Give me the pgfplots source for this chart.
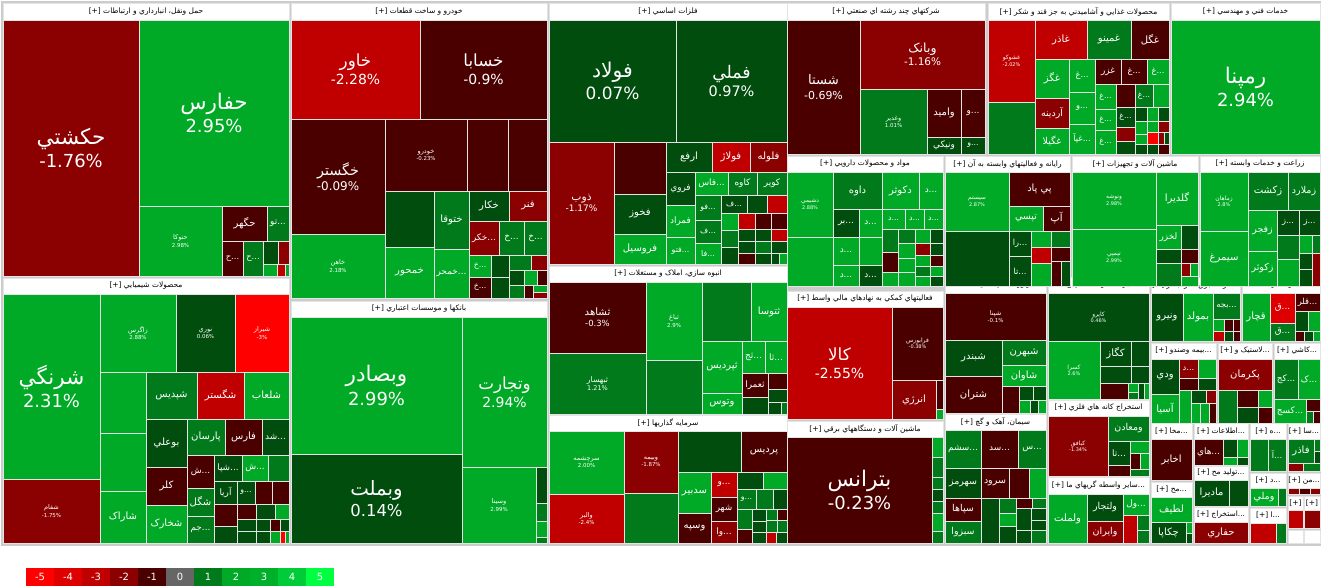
\documentclass[border=0pt]{standalone}
\usepackage{pgfplots}
\pgfplotsset{compat=1.18}
\usetikzlibrary{calc}
\usepackage{fontspec}
\setmainfont{DejaVu Sans}
\newfontfamily\ar[Script=Arabic]{DejaVu Sans}
\TeXXeTstate=1

\definecolor{r1}{RGB}{75,0,0}
\definecolor{r2}{RGB}{139,0,0}
\definecolor{r3}{RGB}{192,0,0}
\definecolor{r4}{RGB}{222,0,0}
\definecolor{r5}{RGB}{255,0,0}
\definecolor{g0}{RGB}{0,77,13}
\definecolor{g1}{RGB}{0,122,26}
\definecolor{g2}{RGB}{0,170,38}
\definecolor{g3}{RGB}{0,176,42}
\definecolor{g4}{RGB}{0,204,58}
\definecolor{g5}{RGB}{0,255,64}
\definecolor{n0}{RGB}{102,102,102}
\definecolor{tb}{RGB}{228,228,228}
\definecolor{bg}{RGB}{204,204,204}

\tikzset{lab/.style={text=white,inner sep=0pt,align=center},
         hd/.style={text=black,inner sep=0pt,font=\fontsize{7.5}{8.5}\selectfont}}

% plain tile
\newcommand{\R}[5]{\addplot[fill=#5,draw=tb,line width=0.8bp] coordinates {(#1,#2) (#3,#2) (#3,#4) (#1,#4)} --cycle;}
% tile with name and change (name a little larger than the figure)
\newcommand{\T}[8]{\R{#1}{#2}{#3}{#4}{#5}%
  \node[lab,font=\fontsize{#6}{\fpeval{1.3*#6}}\selectfont] at ($(axis cs:#1,#2)!0.5!(axis cs:#3,#4)$)
    {{\fontsize{\fpeval{1.2*#6}}{\fpeval{1.3*#6}}\selectfont\ar\beginR #7\endR}\\#8};}
% tile with name only
\newcommand{\K}[7]{\R{#1}{#2}{#3}{#4}{#5}%
  \node[lab,font=\fontsize{\fpeval{1.12*#6}}{#6}\selectfont] at ($(axis cs:#1,#2)!0.5!(axis cs:#3,#4)$) {\ar\beginR #7\endR};}
% tile with cut name
\newcommand{\Kd}[7]{\R{#1}{#2}{#3}{#4}{#5}%
  \node[lab,font=\fontsize{\fpeval{1.12*#6}}{#6}\selectfont] at ($(axis cs:#1,#2)!0.5!(axis cs:#3,#4)$) {{\ar\beginR #7\endR}...};}
% group headers
\newcommand{\Hd}[5]{\addplot[fill=white,draw=tb,line width=0.8bp] coordinates {(#1,#2) (#3,#2) (#3,#4) (#1,#4)} --cycle;
  \node[hd] at ($(axis cs:#1,#2)!0.5!(axis cs:#3,#4)$) {[+] {\ar #5}};}
\newcommand{\Ht}[5]{\addplot[fill=white,draw=tb,line width=0.8bp] coordinates {(#1,#2) (#3,#2) (#3,#4) (#1,#4)} --cycle;
  \node[hd] at ($(axis cs:#1,#2)!0.5!(axis cs:#3,#4)$) {[+] {\ar #5}...};}
\newcommand{\Hp}[4]{\addplot[fill=white,draw=tb,line width=0.8bp] coordinates {(#1,#2) (#3,#2) (#3,#4) (#1,#4)} --cycle;
  \node[hd] at ($(axis cs:#1,#2)!0.5!(axis cs:#3,#4)$) {[+]};}
% colour scale
\newcommand{\Lg}[4]{\addplot[fill=#3,draw=none] coordinates {(#1,568) (#2,568) (#2,586) (#1,586)} --cycle;
  \node[text=white,inner sep=0pt,font=\fontsize{10}{11}\selectfont] at ($(axis cs:#1,568)!0.5!(axis cs:#2,586)$) {#4};}

\begin{document}
\begin{tikzpicture}
\begin{axis}[scale only axis, width=1322bp, height=586bp,
  xmin=0, xmax=1322, ymin=0, ymax=586, y dir=reverse,
  hide axis, clip=false]
\addplot[fill=white,draw=none] coordinates {(0,0) (1322,0) (1322,586) (0,586)} --cycle;
\addplot[fill=bg,draw=none] coordinates {(1,1) (1321,1) (1321,546) (1,546)} --cycle;
\coordinate (ll) at (axis cs:0,586);
\coordinate (ur) at (axis cs:1322,0);

% ---- headers
\Hd{3}{3}{289}{20}{\beginR حمل ونقل، انبارداري و ارتباطات\endR}
\Hd{3}{278}{289}{294}{\beginR محصولات شيميايي\endR}
\Hd{291}{3}{547}{20}{\beginR خودرو و ساخت قطعات\endR}
\Hd{291}{301}{547}{317}{\beginR بانکها و موسسات اعتباري\endR}
\Hd{549}{3}{787}{20}{\beginR فلزات اساسي\endR}
\Hd{549}{266}{787}{282}{\beginR انبوه سازي، املاک و مستغلات\endR}
\Hd{549}{415}{787}{431}{\beginR سرمايه گذاريها\endR}
\Hd{787}{3}{985}{20}{\beginR شرکتهاي چند رشته اي صنعتي\endR}
\Hd{988}{3}{1169}{20}{\beginR محصولات غذايي و آشاميدني به جز قند و شکر\endR}
\Hd{1171}{3}{1320}{20}{\beginR خدمات فني و مهندسي\endR}
\Hd{787}{156}{943}{172}{\beginR مواد و محصولات دارويي\endR}
\Hd{945}{156}{1070}{172}{\beginR رايانه و فعاليتهاي وابسته به آن\endR}
\Hd{1072}{156}{1198}{172}{\beginR ماشين آلات و تجهيزات\endR}
\Hd{1200}{156}{1320}{172}{\beginR زراعت و خدمات وابسته\endR}
\Hd{787}{291}{943}{307}{\beginR فعاليتهاي کمکي به نهادهاي مالي واسط\endR}
\Hd{787}{421}{943}{437}{\beginR ماشين آلات و دستگاههاي برقي\endR}
\Ht{945}{277}{1046}{293}{\beginR فراورده هاي نفتي، کک\endR}
\Hd{945}{414}{1046}{430}{\beginR سيمان، آهک و گچ\endR}
\Ht{1048}{277}{1149}{293}{\beginR ساير محصولات کاني غ\endR}
\Hd{1048}{400}{1149}{416}{\beginR استخراج کانه هاي فلزي\endR}
\Ht{1048}{477}{1149}{494}{\beginR ساير واسطه گريهاي ما\endR}
\Ht{1151}{277}{1240}{293}{\beginR عرضه برق، گاز، بخار\endR}
\Hd{1242}{277}{1320}{293}{\beginR قند و شکر\endR}
\Ht{1151}{343}{1216}{359}{\beginR بيمه وصندو\endR}
\Ht{1218}{343}{1272}{359}{\beginR لاستيک و\endR}
\Ht{1274}{343}{1320}{359}{\beginR کاشي\endR}
\Ht{1151}{423}{1192}{439}{\beginR مخا\endR}
\Ht{1151}{482}{1192}{497}{\beginR مح\endR}
\Ht{1194}{423}{1248}{439}{\beginR اطلاعات\endR}
\Ht{1194}{466}{1248}{480}{\beginR توليد مح\endR}
\Ht{1194}{507}{1248}{522}{\beginR استخراج\endR}
\Ht{1250}{423}{1286}{439}{\beginR ه\endR}
\Ht{1288}{423}{1320}{439}{\beginR سا\endR}
\Ht{1250}{473}{1286}{488}{\beginR د\endR}
\Ht{1288}{473}{1320}{488}{\beginR من\endR}
\Ht{1250}{508}{1286}{523}{\beginR ا\endR}
\Hp{1288}{496}{1303}{510}
\Hp{1304}{496}{1320}{510}

% ---- transport
\T{3}{20}{139}{276}{r2}{18}{حکشتي}{-1.76\%}
\T{139}{20}{289}{206}{g2}{18}{حفارس}{2.95\%}
\T{139}{206}{222}{276}{g2}{5.5}{حتوکا}{2.98\%}
\K{222}{206}{267}{241}{r1}{9}{حگهر}
\Kd{267}{206}{289}{241}{g1}{8}{تو}
\Kd{222}{241}{243}{276}{r1}{7.5}{ح}
\Kd{243}{241}{263}{276}{g1}{7.5}{ح}
\R{263}{241}{278}{264}{g0}
\R{278}{241}{289}{264}{r2}
\R{263}{264}{277}{276}{g2}
\R{277}{264}{285}{276}{r3}
\R{285}{264}{289}{276}{g2}

% ---- chemicals
\T{3}{294}{100}{479}{g2}{18}{شرنگي}{2.31\%}
\T{3}{479}{100}{543}{r2}{5.5}{شفام}{-1.75\%}
\T{100}{294}{176}{372}{g2}{5.5}{زاگرس}{2.88\%}
\T{176}{294}{235}{372}{g0}{5.5}{نوري}{0.06\%}
\T{235}{294}{289}{372}{r5}{5.5}{شيراز}{-3\%}
\R{100}{372}{146}{433}{g2}
\R{100}{433}{146}{491}{g2}
\K{100}{491}{146}{543}{g2}{9}{شاراک}
\K{146}{372}{197}{419}{g1}{9}{شپديس}
\K{197}{372}{244}{419}{r3}{9}{شگستر}
\K{244}{372}{289}{419}{g2}{9}{شلعاب}
\K{146}{419}{187}{467}{g0}{9}{بوعلي}
\K{187}{419}{225}{455}{g1}{9}{پارسان}
\K{225}{419}{262}{455}{r1}{9}{فارس}
\Kd{262}{419}{289}{455}{g0}{8}{شد}
\K{146}{467}{187}{505}{r1}{9}{کلر}
\K{146}{505}{187}{543}{g2}{9}{شخارک}
\Kd{187}{455}{214}{488}{r1}{8}{ش}
\Kd{214}{455}{242}{481}{g0}{8}{شپا}
\Kd{242}{455}{268}{481}{g2}{8}{ش}
\R{268}{455}{289}{481}{g1}
\K{187}{488}{214}{516}{g1}{9}{شگل}
\Kd{187}{516}{214}{543}{g1}{8}{جم}
\K{214}{481}{237}{504}{g0}{8}{آريا}
\Kd{237}{481}{255}{504}{g0}{7}{و}
\R{255}{481}{272}{504}{r1}
\R{272}{481}{289}{504}{r1}
\R{214}{504}{237}{526}{r1}
\R{214}{526}{237}{543}{g0}
\R{237}{504}{256}{519}{r1}
\R{256}{504}{275}{519}{g0}
\R{275}{504}{289}{519}{g2}
\R{237}{519}{256}{531}{g0}
\R{237}{531}{256}{543}{g0}
\R{256}{519}{270}{531}{g0}
\R{270}{519}{280}{531}{r1}
\R{280}{519}{289}{531}{g0}
\R{256}{531}{270}{543}{g0}
\R{270}{531}{280}{543}{g2}
\R{280}{531}{285}{543}{r5}
\R{285}{531}{289}{543}{g2}

% ---- automotive
\T{291}{20}{420}{119}{r3}{14}{خاور}{-2.28\%}
\T{420}{20}{547}{119}{r1}{14}{خسابا}{-0.9\%}
\T{291}{119}{385}{234}{r1}{12}{خگستر}{-0.09\%}
\T{385}{119}{467}{191}{r1}{5.5}{خودرو}{-0.23\%}
\R{467}{119}{508}{191}{r1}
\R{508}{119}{547}{191}{r1}
\R{385}{191}{434}{247}{g0}
\K{434}{191}{469}{249}{g1}{9}{ختوقا}
\K{469}{191}{509}{221}{g0}{9}{خکار}
\K{509}{191}{547}{221}{r2}{9}{فنر}
\Kd{469}{221}{499}{255}{r2}{8}{خکر}
\Kd{499}{221}{524}{255}{g1}{8}{خ}
\Kd{524}{221}{547}{255}{g1}{8}{خ}
\T{291}{234}{385}{298}{g2}{5.5}{خاهن}{2.18\%}
\K{385}{247}{434}{298}{g2}{9}{خمحور}
\Kd{434}{249}{469}{298}{g2}{8}{خمحر}
\Kd{469}{255}{491}{277}{g2}{7}{خ}
\Kd{469}{277}{491}{298}{r1}{7}{خ}
\R{491}{255}{509}{277}{g0}
\R{491}{277}{509}{298}{g0}
\R{509}{255}{531}{270}{g1}
\R{531}{255}{547}{270}{r2}
\R{509}{270}{524}{285}{g0}
\R{524}{270}{537}{285}{g2}
\R{537}{270}{547}{285}{r1}
\R{509}{285}{524}{298}{g1}
\R{524}{285}{533}{298}{r1}
\R{533}{285}{547}{292}{g2}
\R{533}{292}{547}{298}{r2}

% ---- banks
\T{291}{317}{462}{454}{g2}{18}{وبصادر}{2.99\%}
\T{291}{454}{462}{543}{g0}{16.5}{وبملت}{0.14\%}
\T{462}{317}{547}{467}{g2}{14}{وتجارت}{2.94\%}
\T{462}{467}{536}{543}{g2}{5.5}{وسينا}{2.99\%}
\R{536}{467}{547}{503}{g0}
\R{536}{503}{547}{521}{g1}
\R{536}{521}{547}{537}{g2}
\R{536}{537}{547}{543}{g1}

% ---- basic metals
\T{549}{20}{676}{142}{g0}{17}{فولاد}{0.07\%}
\T{676}{20}{787}{142}{g0}{14.5}{فملي}{0.97\%}
\T{549}{142}{614}{264}{r2}{9}{ذوب}{-1.17\%}
\R{614}{142}{666}{194}{r1}
\K{614}{194}{666}{234}{g0}{9}{فخوز}
\K{614}{234}{666}{264}{g2}{9}{فروسيل}
\K{666}{142}{712}{172}{g0}{9}{ارفع}
\K{712}{142}{750}{172}{r3}{9}{فولاژ}
\K{750}{142}{787}{172}{r2}{9}{فلوله}
\K{666}{172}{695}{205}{g0}{8}{فروي}
\K{666}{205}{695}{237}{g2}{8}{فمراد}
\Kd{666}{237}{695}{264}{g2}{7}{فتو}
\Kd{695}{172}{728}{195}{g2}{8}{فاس}
\K{728}{172}{757}{195}{g1}{8}{کاوه}
\K{757}{172}{787}{195}{g1}{8}{کوير}
\Kd{695}{195}{721}{220}{g1}{7}{فو}
\Kd{695}{220}{721}{243}{g1}{7}{ف}
\Kd{695}{243}{721}{264}{g2}{7}{فا}
\Kd{721}{195}{747}{213}{g0}{7}{ف}
\R{747}{195}{767}{213}{g0}
\R{767}{195}{787}{213}{r3}
\R{721}{213}{738}{230}{g2}
\R{721}{230}{738}{247}{g1}
\R{721}{247}{738}{264}{g0}
\R{738}{213}{755}{229}{r3}
\R{755}{213}{771}{229}{r1}
\R{771}{213}{787}{229}{r1}
\R{738}{229}{755}{241}{g0}
\R{755}{229}{771}{241}{g0}
\R{771}{229}{787}{241}{r3}
\R{738}{241}{755}{253}{g0}
\R{738}{253}{755}{264}{r1}
\R{755}{241}{771}{253}{g1}
\R{755}{253}{771}{264}{g0}
\R{771}{241}{787}{253}{g0}
\R{771}{253}{779}{264}{g0}
\R{779}{253}{787}{264}{g2}

% ---- real estate
\T{549}{282}{646}{353}{r1}{8.5}{ثشاهد}{-0.3\%}
\T{549}{353}{646}{414}{g1}{6.5}{ثبهسار}{1.21\%}
\T{646}{282}{702}{360}{g2}{5.5}{ثباغ}{2.9\%}
\R{646}{360}{702}{414}{g1}
\R{702}{282}{751}{341}{g1}
\K{751}{282}{787}{341}{g2}{9}{ثتوسا}
\K{702}{341}{742}{393}{g2}{9}{ثپرديس}
\Kd{742}{341}{765}{373}{g2}{8}{ثج}
\Kd{765}{341}{787}{373}{g2}{8}{ثا}
\K{742}{373}{768}{397}{r1}{8}{ثعمرا}
\R{768}{373}{787}{389}{r1}
\R{768}{389}{787}{402}{g0}
\R{768}{402}{781}{414}{g0}
\R{781}{402}{787}{414}{g1}
\K{702}{393}{742}{414}{g2}{9}{وتوس}
\R{742}{397}{768}{414}{g0}

% ---- investments
\T{549}{431}{624}{494}{g2}{5.5}{سرچشمه}{2.00\%}
\T{624}{431}{678}{493}{r2}{5.5}{وبيمه}{-1.87\%}
\T{549}{494}{624}{543}{r3}{5.5}{والبر}{-2.4\%}
\R{624}{493}{678}{543}{g1}
\R{678}{431}{741}{472}{g0}
\K{741}{431}{787}{472}{r1}{9}{پرديس}
\K{678}{472}{711}{513}{g2}{9}{سدبير}
\K{678}{513}{711}{543}{r1}{9}{وسپه}
\Kd{711}{472}{737}{497}{r3}{8}{و}
\K{711}{497}{737}{521}{r1}{8}{شهر}
\Kd{711}{521}{737}{543}{r2}{8}{وا}
\R{737}{472}{763}{489}{g0}
\R{763}{472}{787}{489}{g2}
\Kd{737}{489}{756}{509}{g1}{7}{و}
\R{756}{489}{773}{509}{g1}
\R{773}{489}{787}{509}{g0}
\R{737}{509}{752}{529}{g1}
\R{737}{529}{752}{543}{r1}
\R{752}{509}{766}{521}{g0}
\R{752}{521}{766}{532}{g0}
\R{752}{532}{766}{543}{g0}
\R{766}{509}{777}{520}{g1}
\R{777}{509}{787}{520}{r1}
\R{766}{520}{777}{532}{g1}
\R{777}{520}{787}{532}{g1}
\R{766}{532}{776}{543}{r3}
\R{776}{532}{787}{543}{g0}

% ---- multi-industry
\T{787}{20}{860}{154}{r1}{11}{شستا}{-0.69\%}
\T{860}{20}{985}{89}{r2}{10.5}{وبانک}{-1.16\%}
\T{860}{89}{927}{154}{g1}{5.5}{وغدير}{1.01\%}
\K{927}{89}{961}{137}{r1}{9}{واميد}
\Kd{961}{89}{985}{137}{r1}{8}{و}
\K{927}{137}{961}{154}{g0}{8}{ونيکي}
\Kd{961}{137}{985}{154}{g0}{7}{و}

% ---- food
\T{988}{20}{1035}{102}{r3}{5}{غشوکو}{-2.02\%}
\R{988}{102}{1035}{154}{g1}
\K{1035}{20}{1087}{59}{r3}{9}{غاذر}
\K{1087}{20}{1131}{59}{g1}{9}{غمينو}
\K{1131}{20}{1169}{59}{r1}{9}{غگل}
\K{1035}{59}{1069}{98}{g2}{9}{غگز}
\K{1035}{98}{1069}{128}{r2}{8.5}{آردينه}
\K{1035}{128}{1069}{154}{g2}{8.5}{غگيلا}
\Kd{1069}{59}{1095}{92}{g2}{7.5}{غ}
\Kd{1069}{92}{1095}{124}{g2}{7.5}{و}
\Kd{1069}{124}{1095}{154}{g2}{7.5}{غپآ}
\K{1095}{59}{1121}{84}{r1}{8}{غزر}
\Kd{1121}{59}{1147}{84}{r1}{7.5}{غ}
\Kd{1147}{59}{1169}{84}{g2}{7.5}{غ}
\Kd{1095}{84}{1116}{109}{g2}{7}{غ}
\Kd{1095}{109}{1116}{130}{g2}{7}{غ}
\Kd{1095}{130}{1116}{154}{g2}{7}{غ}
\R{1116}{84}{1135}{107}{r1}
\Kd{1135}{84}{1153}{107}{g1}{7}{غ}
\R{1153}{84}{1169}{107}{g2}
\Kd{1116}{107}{1135}{127}{g0}{7}{غ}
\R{1135}{107}{1147}{121}{g0}
\R{1147}{107}{1158}{121}{g2}
\R{1158}{107}{1169}{121}{g0}
\R{1116}{127}{1135}{141}{r2}
\R{1116}{141}{1135}{154}{g0}
\R{1135}{121}{1147}{134}{g2}
\R{1135}{134}{1147}{144}{g2}
\R{1135}{144}{1147}{154}{g0}
\R{1147}{121}{1158}{132}{g2}
\R{1158}{121}{1169}{132}{r2}
\R{1147}{132}{1158}{144}{r5}
\R{1158}{132}{1164}{144}{r2}
\R{1164}{132}{1169}{144}{g0}
\R{1147}{144}{1158}{154}{g0}
\R{1158}{144}{1169}{154}{r1}

% ---- engineering
\T{1171}{20}{1320}{154}{g2}{18}{رمپنا}{2.94\%}

% ---- pharma
\T{787}{172}{833}{237}{g2}{5}{دشيمي}{2.88\%}
\R{787}{237}{833}{286}{g2}
\K{833}{172}{882}{209}{g1}{9}{داوه}
\K{882}{172}{919}{209}{g2}{9}{دکوثر}
\Kd{919}{172}{943}{209}{g2}{8}{د}
\Kd{833}{209}{859}{237}{g0}{8}{بر}
\Kd{859}{209}{882}{237}{g2}{8}{د}
\Kd{882}{209}{905}{229}{g2}{7}{د}
\Kd{905}{209}{924}{229}{g2}{7}{د}
\Kd{924}{209}{943}{229}{g2}{7}{د}
\Kd{833}{237}{859}{265}{g2}{8}{د}
\R{859}{237}{882}{265}{g2}
\Kd{833}{265}{859}{286}{g2}{8}{د}
\Kd{859}{265}{882}{286}{g0}{8}{د}
\R{882}{229}{898}{252}{g1}
\R{882}{252}{898}{272}{r1}
\R{882}{272}{898}{286}{g2}
\R{898}{229}{915}{243}{g1}
\R{915}{229}{930}{243}{g2}
\R{930}{229}{943}{243}{g0}
\R{898}{243}{915}{258}{g2}
\R{915}{243}{930}{255}{r2}
\R{930}{243}{943}{255}{g0}
\R{898}{258}{915}{272}{g2}
\R{915}{255}{930}{266}{g2}
\R{930}{255}{943}{266}{r1}
\R{898}{272}{915}{286}{g2}
\R{915}{266}{930}{276}{g1}
\R{930}{266}{943}{276}{g2}
\R{915}{276}{930}{286}{g2}
\R{930}{276}{943}{286}{g0}

% ---- computers
\T{945}{172}{1009}{231}{g2}{5}{سيستم}{2.87\%}
\R{945}{231}{1009}{286}{g0}
\R{1009}{172}{1070}{206}{r1}
\node[lab,font=\fontsize{10}{10}\selectfont] at ($(axis cs:1009,172)!0.5!(axis cs:1070,206)$) {\ar\beginR پي پاد\endR};
\K{1009}{206}{1043}{231}{g2}{8.5}{تپسي}
\K{1043}{206}{1070}{231}{r1}{9}{آپ}
\Kd{1009}{231}{1031}{256}{g0}{7.5}{را}
\Kd{1009}{256}{1031}{286}{g0}{7.5}{تا}
\R{1031}{231}{1051}{247}{g2}
\R{1051}{231}{1070}{247}{g1}
\R{1031}{247}{1051}{263}{r3}
\R{1051}{247}{1070}{261}{r1}
\R{1031}{263}{1051}{286}{g2}
\R{1051}{261}{1061}{286}{r1}
\R{1061}{261}{1070}{286}{g0}

% ---- machinery
\T{1072}{172}{1156}{229}{g2}{5}{ونوشه}{2.98\%}
\T{1072}{229}{1156}{286}{g2}{5}{تپمپي}{2.99\%}
\K{1156}{172}{1198}{225}{g2}{9}{گلديرا}
\K{1156}{225}{1181}{249}{g2}{8}{لخزر}
\R{1181}{225}{1198}{249}{g0}
\R{1156}{249}{1181}{263}{g0}
\R{1156}{263}{1181}{286}{g1}
\R{1181}{249}{1198}{263}{r1}
\R{1181}{263}{1190}{276}{r2}
\R{1190}{263}{1198}{276}{g2}
\R{1181}{276}{1198}{286}{g2}

% ---- agriculture
\T{1200}{172}{1248}{231}{g2}{5}{زماهان}{2.8\%}
\K{1200}{231}{1248}{286}{g2}{9}{سيمرغ}
\K{1248}{172}{1288}{210}{g1}{9}{زکشت}
\K{1288}{172}{1320}{210}{g1}{8.5}{زملارد}
\K{1248}{210}{1277}{251}{g2}{8.5}{زفجر}
\K{1248}{251}{1277}{286}{g2}{8.5}{زکوثر}
\Kd{1277}{210}{1299}{235}{g0}{7.5}{ز}
\Kd{1299}{210}{1320}{235}{g0}{7.5}{ز}
\R{1277}{235}{1299}{259}{g1}
\R{1299}{235}{1312}{253}{g2}
\R{1312}{235}{1320}{253}{g1}
\R{1277}{259}{1299}{286}{g2}
\R{1299}{253}{1312}{269}{g0}
\R{1299}{269}{1312}{286}{g0}
\R{1312}{253}{1320}{286}{r2}

% ---- financial services
\T{787}{307}{892}{419}{r3}{14}{کالا}{-2.55\%}
\T{892}{307}{943}{380}{r1}{5}{فرابورس}{-0.38\%}
\K{892}{380}{936}{419}{r2}{9}{انرژي}
\R{936}{380}{943}{409}{r1}
\R{936}{409}{943}{419}{g2}

% ---- electrical equipment
\T{787}{437}{932}{543}{r1}{18}{بترانس}{-0.23\%}
\R{932}{437}{943}{457}{g2}
\R{932}{457}{943}{477}{g1}
\R{932}{477}{943}{489}{g1}
\R{932}{489}{943}{501}{g0}
\R{932}{501}{943}{513}{g1}
\R{932}{513}{943}{531}{g2}
\R{932}{531}{943}{543}{g1}

% ---- oil products
\T{945}{293}{1046}{340}{r1}{5.5}{شپنا}{-0.1\%}
\K{945}{340}{1002}{376}{g0}{9}{شبندر}
\K{945}{376}{1002}{413}{r1}{9}{شتران}
\K{1002}{340}{1046}{365}{g1}{9}{شبهرن}
\K{1002}{365}{1046}{386}{g2}{9}{شاوان}
\R{1002}{386}{1019}{413}{r1}
\R{1019}{386}{1033}{400}{g0}
\R{1033}{386}{1046}{400}{g0}
\R{1019}{400}{1030}{413}{g2}
\R{1030}{400}{1038}{413}{g0}
\R{1038}{400}{1046}{413}{g2}

% ---- cement
\Kd{945}{430}{981}{468}{g1}{8}{سشم}
\Kd{981}{430}{1018}{468}{r1}{8}{سد}
\Kd{1018}{430}{1046}{468}{g1}{8}{س}
\K{945}{468}{981}{498}{g0}{8.5}{سهرمز}
\K{981}{468}{1009}{498}{r1}{8.5}{سرود}
\R{1009}{468}{1029}{498}{r1}
\R{1029}{468}{1046}{498}{g2}
\K{945}{498}{981}{521}{r1}{8.5}{سپاها}
\K{945}{521}{981}{543}{g1}{8.5}{سبزوا}
\R{981}{498}{999}{543}{g0}
\R{999}{498}{1016}{513}{g1}
\R{999}{513}{1016}{526}{g2}
\R{999}{526}{1016}{543}{g0}
\R{1016}{498}{1032}{508}{r1}
\R{1032}{498}{1046}{508}{g1}
\R{1016}{508}{1031}{530}{g0}
\R{1031}{508}{1046}{520}{g0}
\R{1031}{520}{1046}{530}{g0}
\R{1016}{530}{1031}{543}{g0}
\R{1031}{530}{1046}{543}{g1}

% ---- non-metallic minerals
\T{1048}{293}{1149}{341}{g0}{5}{کاپرو}{0.46\%}
\T{1048}{341}{1100}{399}{g2}{5}{کسرا}{2.6\%}
\K{1100}{341}{1131}{366}{g0}{9}{کگاز}
\R{1131}{341}{1149}{366}{g0}
\R{1100}{366}{1131}{383}{g0}
\R{1131}{366}{1149}{383}{g0}
\R{1100}{383}{1128}{399}{r1}
\R{1128}{383}{1138}{392}{g2}
\R{1128}{392}{1138}{399}{g1}
\R{1138}{383}{1144}{399}{g0}
\R{1144}{383}{1149}{399}{g2}

% ---- metal ores
\T{1048}{416}{1108}{476}{r2}{5}{کبافق}{-1.34\%}
\K{1108}{416}{1149}{441}{g1}{8.5}{ومعادن}
\Kd{1108}{441}{1130}{465}{g0}{8}{تا}
\R{1130}{441}{1149}{453}{g2}
\R{1130}{453}{1140}{469}{r1}
\R{1140}{453}{1149}{469}{g2}
\R{1108}{465}{1130}{476}{r1}
\R{1130}{469}{1149}{476}{g1}

% ---- other financial intermediation
\K{1048}{494}{1087}{543}{g2}{9}{ولملت}
\K{1087}{494}{1123}{521}{g0}{8.5}{ولتجار}
\Kd{1123}{494}{1149}{515}{g2}{8}{ول}
\K{1087}{521}{1123}{543}{r2}{8.5}{وايران}
\R{1123}{515}{1137}{543}{r3}
\R{1137}{515}{1149}{530}{g1}
\R{1137}{530}{1149}{543}{g1}

% ---- utilities
\K{1151}{293}{1183}{341}{g0}{9}{ونيرو}
\K{1183}{293}{1213}{341}{g2}{9}{بمولد}
\Kd{1213}{293}{1240}{319}{g1}{7.5}{بجه}
\R{1213}{319}{1224}{331}{g2}
\R{1224}{319}{1233}{331}{r1}
\R{1233}{319}{1240}{331}{r1}
\R{1213}{331}{1224}{341}{r3}
\R{1224}{331}{1233}{341}{g0}
\R{1233}{331}{1240}{341}{r1}

% ---- sugar
\K{1242}{293}{1270}{341}{g2}{9}{قچار}
\Kd{1270}{293}{1295}{323}{r4}{8}{ق}
\Kd{1295}{293}{1320}{311}{r1}{7.5}{قلر}
\Kd{1270}{323}{1295}{341}{g1}{8}{ق}
\R{1295}{311}{1308}{331}{g0}
\R{1308}{311}{1320}{331}{g2}
\R{1295}{331}{1304}{341}{r1}
\R{1304}{331}{1313}{341}{g0}
\R{1313}{331}{1320}{341}{g2}

% ---- insurance
\K{1151}{359}{1179}{394}{g0}{9}{ودي}
\K{1151}{394}{1179}{423}{g2}{9}{آسيا}
\Kd{1179}{359}{1198}{378}{r2}{7.5}{د}
\R{1198}{359}{1216}{378}{g2}
\R{1179}{378}{1198}{390}{r1}
\R{1198}{378}{1216}{390}{g0}
\R{1179}{390}{1191}{423}{g2}
\R{1191}{390}{1206}{403}{g0}
\R{1206}{390}{1216}{403}{r2}
\R{1191}{403}{1200}{423}{g2}
\R{1200}{403}{1209}{423}{g2}
\R{1209}{403}{1216}{423}{r1}

% ---- rubber
\K{1218}{359}{1272}{390}{r2}{9}{پکرمان}
\R{1218}{390}{1237}{423}{g1}
\R{1237}{390}{1258}{407}{r1}
\R{1237}{407}{1258}{423}{g0}
\R{1258}{390}{1272}{407}{g2}
\R{1258}{407}{1272}{423}{r1}

% ---- tiles
\Kd{1274}{359}{1298}{399}{g1}{8}{کج}
\Kd{1298}{359}{1320}{399}{g2}{8}{ک}
\Kd{1274}{399}{1306}{423}{g2}{8}{کسج}
\R{1306}{399}{1320}{411}{r1}
\R{1306}{411}{1313}{423}{g1}
\R{1313}{411}{1320}{423}{r1}

% ---- small groups
\K{1151}{439}{1192}{480}{r1}{9}{اخابر}
\K{1151}{497}{1192}{522}{g2}{9}{لطيف}
\K{1151}{522}{1186}{543}{g0}{9}{چکاپا}
\R{1186}{522}{1192}{533}{g2}
\R{1186}{533}{1192}{543}{g0}
\Kd{1194}{439}{1223}{465}{r1}{8}{هاي}
\R{1223}{439}{1237}{457}{g0}
\R{1237}{439}{1248}{457}{g2}
\R{1223}{457}{1237}{465}{g2}
\R{1237}{457}{1248}{465}{g0}
\K{1194}{480}{1229}{506}{g0}{9}{ماديرا}
\R{1229}{480}{1248}{506}{g0}
\K{1194}{522}{1248}{543}{r2}{9}{حفاري}
\R{1250}{439}{1268}{471}{g1}
\Kd{1268}{439}{1286}{471}{g1}{7.5}{آ}
\K{1288}{439}{1314}{463}{g1}{9}{فاذر}
\R{1314}{439}{1320}{451}{g1}
\R{1314}{451}{1320}{463}{g0}
\R{1288}{463}{1303}{471}{r2}
\R{1303}{463}{1320}{471}{g1}
\K{1250}{488}{1278}{506}{g2}{8.5}{وملي}
\R{1278}{488}{1286}{506}{g1}
\R{1288}{488}{1299}{494}{r2}
\R{1299}{488}{1310}{494}{r1}
\R{1310}{488}{1320}{494}{r2}
\R{1288}{510}{1303}{528}{r3}
\R{1304}{510}{1320}{528}{r2}
\R{1288}{530}{1303}{543}{white}
\R{1304}{530}{1320}{543}{white}
\R{1250}{523}{1276}{543}{r3}
\R{1276}{523}{1286}{543}{g1}

% ---- colour scale
\Lg{26}{54}{r5}{-5}
\Lg{54}{82}{r4}{-4}
\Lg{82}{110}{r3}{-3}
\Lg{110}{138}{r2}{-2}
\Lg{138}{166}{r1}{-1}
\Lg{166}{194}{n0}{0}
\Lg{194}{222}{g1}{1}
\Lg{222}{250}{g2}{2}
\Lg{250}{278}{g3}{3}
\Lg{278}{306}{g4}{4}
\Lg{306}{334}{g5}{5}
\end{axis}
\pgfresetboundingbox
\path[use as bounding box] (ll) rectangle (ur);
\end{tikzpicture}
\end{document}
